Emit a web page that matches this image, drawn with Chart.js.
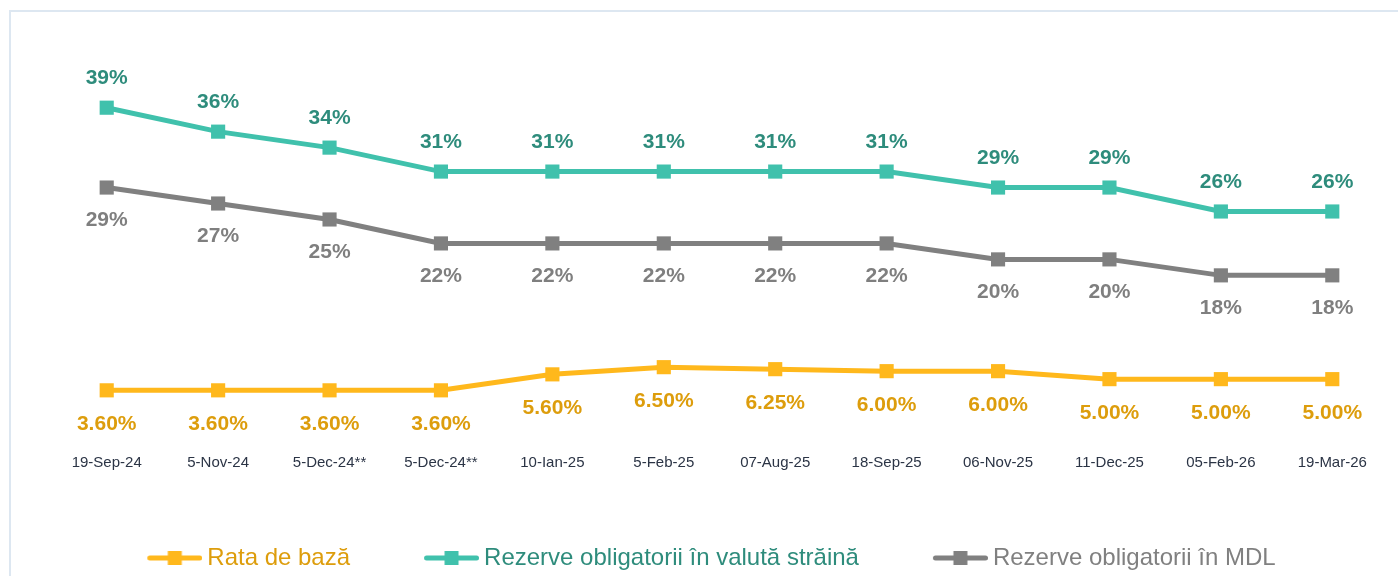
<!DOCTYPE html>
<html>
<head>
<meta charset="utf-8">
<script src="https://cdn.jsdelivr.net/npm/chart.js@4"></script>
<style>
  html, body { margin: 0; padding: 0; background: #fff; }
  #wrap { position: relative; width: 1398px; height: 576px; overflow: hidden; }
  #frame { position: absolute; left: 9px; top: 10px; right: -2px; bottom: -2px;
           border-left: 2px solid #dde7f1; border-top: 2px solid #dde7f1; }
  #chart { position: absolute; left: 0; top: 0; }
</style>
</head>
<body>
<div id="wrap">
  <div id="frame"></div>
  <canvas id="chart" width="1398" height="576"></canvas>
</div>
<script>
// dates of the decisions (x axis)
const dates = ['19-Sep-24', '5-Nov-24', '5-Dec-24**', '5-Dec-24**', '10-Ian-25', '5-Feb-25',
               '07-Aug-25', '18-Sep-25', '06-Nov-25', '11-Dec-25', '05-Feb-26', '19-Mar-26'];

// values in %
const rataDeBaza  = [3.60, 3.60, 3.60, 3.60, 5.60, 6.50, 6.25, 6.00, 6.00, 5.00, 5.00, 5.00];
const rezerveValuta = [39, 36, 34, 31, 31, 31, 31, 31, 29, 29, 26, 26];
const rezerveMDL  = [29, 27, 25, 22, 22, 22, 22, 22, 20, 20, 18, 18];

const seriesNames = ['Rata de bază', 'Rezerve obligatorii în valută străină', 'Rezerve obligatorii în MDL'];

const YELLOW = '#ffb81c', YELLOW_TXT = '#dd9d0c';
const TEAL = '#40c1ac', TEAL_TXT = '#2e8c7c';
const GREY = '#808080', GREY_TXT = '#7f7f7f';
const FONT = '"Liberation Sans", Arial, sans-serif';

// little line+square icon used in the legend
function legendIcon(color) {
  const c = document.createElement('canvas');
  c.width = 65; c.height = 16;
  const g = c.getContext('2d');
  g.strokeStyle = color;
  g.lineWidth = 5;
  g.lineCap = 'round';
  g.beginPath();
  g.moveTo(12.5, 8); g.lineTo(62.5, 8);
  g.stroke();
  g.fillStyle = color;
  g.fillRect(30.5, 1, 14, 14);
  return c;
}

// value labels above / below the points
const valueLabels = {
  id: 'valueLabels',
  afterDatasetsDraw(chart) {
    const ctx = chart.ctx;
    ctx.save();
    ctx.font = 'bold 21px ' + FONT;
    ctx.textAlign = 'center';
    ctx.textBaseline = 'middle';
    chart.data.datasets.forEach((ds, i) => {
      const meta = chart.getDatasetMeta(i);
      ctx.fillStyle = ds.labelColor;
      meta.data.forEach((pt, j) => {
        const v = ds.data[j];
        const txt = ds.decimals ? v.toFixed(2) + '%' : v + '%';
        ctx.fillText(txt, pt.x, pt.y + ds.labelOffset);
      });
    });
    ctx.restore();
  }
};

const mk = (label, data, color, txtColor, offset, decimals) => ({
  label,
  data,
  borderColor: color,
  backgroundColor: color,
  borderWidth: 5,
  pointStyle: 'rect',
  pointRadius: 10,
  pointHoverRadius: 10,
  pointBorderWidth: 0,
  tension: 0,
  labelColor: txtColor,
  labelOffset: offset,
  decimals
});

new Chart(document.getElementById('chart'), {
  type: 'line',
  data: {
    labels: dates,
    datasets: [
      mk(seriesNames[0], rataDeBaza, YELLOW, YELLOW_TXT, 34, true),
      mk(seriesNames[1], rezerveValuta, TEAL, TEAL_TXT, -29.5, false),
      mk(seriesNames[2], rezerveMDL, GREY, GREY_TXT, 33, false)
    ]
  },
  options: {
    responsive: false,
    animation: false,
    layout: { padding: { left: 22, right: 0, top: 40, bottom: -4 } },
    plugins: {
      tooltip: { enabled: false },
      legend: {
        position: 'bottom',
        labels: {
          usePointStyle: true,
          pointStyleWidth: 51,
          boxHeight: 16,
          padding: 71,
          font: { family: FONT, size: 24 },
          generateLabels(chart) {
            const icons = [YELLOW, TEAL, GREY];
            const txt = [YELLOW_TXT, TEAL_TXT, GREY];
            return chart.data.datasets.map((ds, i) => ({
              text: ds.label,
              datasetIndex: i,
              fillStyle: icons[i],
              strokeStyle: icons[i],
              fontColor: txt[i],
              lineWidth: 0,
              pointStyle: legendIcon(icons[i]),
              hidden: false
            }));
          }
        }
      }
    },
    scales: {
      x: {
        offset: true,
        grid: { display: false, drawTicks: false },
        border: { display: false },
        ticks: {
          padding: 3,
          color: '#2b3445',
          maxRotation: 0,
          autoSkip: false,
          font: { family: FONT, size: 15 }
        }
      },
      y: {
        min: -4.0,
        max: 47.48,
        grid: { display: false, drawTicks: false },
        border: { display: false },
        ticks: { display: false },
        afterFit(s) { s.width = 29; }
      }
    }
  },
  plugins: [valueLabels]
});
</script>
</body>
</html>
